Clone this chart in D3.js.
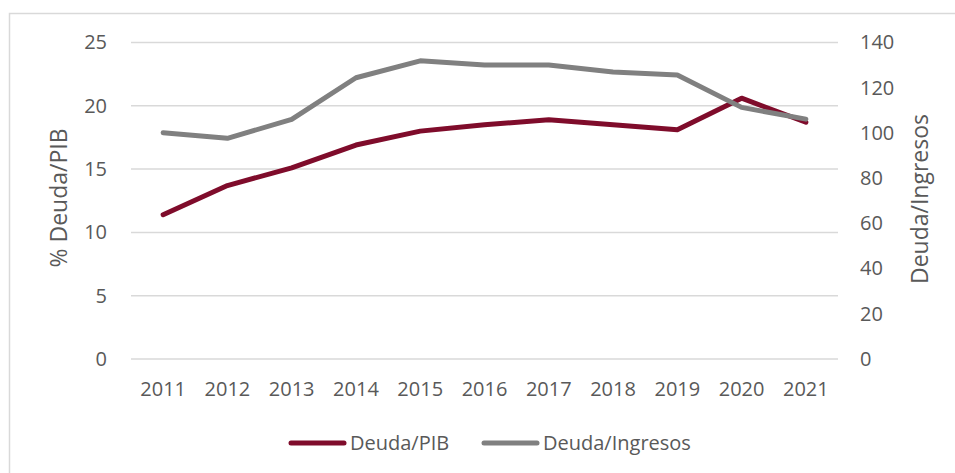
<!DOCTYPE html>
<html>
<head>
<meta charset="utf-8">
<script src="https://cdn.jsdelivr.net/npm/d3@7.9.0/dist/d3.min.js"></script>
<style>
  body { margin: 0; background: #fff; }
  svg { display: block; font-family: 'Open Sans', sans-serif; }
</style>
</head>
<body>
<div id="chart"></div>
<script>
const years = ['2011', '2012', '2013', '2014', '2015', '2016', '2017', '2018', '2019', '2020', '2021'];
const deudaPib = [11.4, 13.7, 15.1, 16.9, 18.0, 18.5, 18.9, 18.5, 18.1, 20.6, 18.7];
const deudaIngresos = [100.1, 97.6, 106.0, 124.4, 131.9, 130.0, 130.0, 127.0, 125.6, 111.3, 106.1];
const leftTicks = [0, 5, 10, 15, 20, 25];
const rightTicks = [0, 20, 40, 60, 80, 100, 120, 140];

const width = 955;
const height = 473;
const margin = { top: 42.5, right: 117, bottom: 114, left: 131 };
const textColor = '#595959';

const svg = d3
  .select('#chart')
  .append('svg')
  .attr('width', width)
  .attr('height', height);

// outer chart frame
svg
  .append('rect')
  .attr('x', 9.5)
  .attr('y', 13.5)
  .attr('width', width)
  .attr('height', height)
  .attr('fill', 'none')
  .attr('stroke', '#d9d9d9')
  .attr('stroke-width', 1.5);

const x = d3
  .scaleBand()
  .domain(years)
  .range([margin.left, width - margin.right]);

const yLeft = d3
  .scaleLinear()
  .domain([0, 25])
  .range([height - margin.bottom, margin.top]);

const yRight = d3
  .scaleLinear()
  .domain([0, 140])
  .range([height - margin.bottom, margin.top]);

// gridlines
svg
  .append('g')
  .attr('class', 'gridlines')
  .selectAll('line')
  .data(leftTicks)
  .join('line')
  .attr('x1', margin.left)
  .attr('x2', width - margin.right)
  .attr('y1', (d) => yLeft(d))
  .attr('y2', (d) => yLeft(d))
  .attr('stroke', '#d9d9d9')
  .attr('stroke-width', 1.5);

// left axis
const leftAxis = svg
  .append('g')
  .attr('transform', `translate(${margin.left - 24}, 0)`)
  .call(d3.axisLeft(yLeft).tickValues(leftTicks).tickSize(0).tickPadding(0));
leftAxis.select('.domain').remove();
leftAxis
  .selectAll('text')
  .attr('fill', textColor)
  .attr('font-size', 20)
  .attr('font-family', 'Open Sans');

// right axis
const rightAxis = svg
  .append('g')
  .attr('transform', `translate(${width - margin.right + 22}, 0)`)
  .call(d3.axisRight(yRight).tickValues(rightTicks).tickSize(0).tickPadding(0));
rightAxis.select('.domain').remove();
rightAxis
  .selectAll('text')
  .attr('fill', textColor)
  .attr('font-size', 20)
  .attr('font-family', 'Open Sans');

// x axis
const xAxis = svg
  .append('g')
  .attr('transform', `translate(0, ${height - margin.bottom + 23})`)
  .call(d3.axisBottom(x).tickSize(0).tickPadding(0));
xAxis.select('.domain').remove();
xAxis
  .selectAll('text')
  .attr('fill', textColor)
  .attr('font-size', 20)
  .attr('font-family', 'Open Sans')
  .attr('dy', '0.71em');

// axis titles
svg
  .append('text')
  .attr('transform', 'translate(67, 198) rotate(-90)')
  .attr('text-anchor', 'middle')
  .attr('fill', textColor)
  .attr('font-size', 23)
  .text('% Deuda/PIB');

svg
  .append('text')
  .attr('transform', 'translate(928, 199) rotate(-90)')
  .attr('text-anchor', 'middle')
  .attr('fill', textColor)
  .attr('font-size', 23)
  .text('Deuda/Ingresos');

const cx = (i) => x(years[i]) + x.bandwidth() / 2;

const series = [
  { name: 'Deuda/PIB', values: deudaPib, scale: yLeft, color: '#7f0c2b' },
  { name: 'Deuda/Ingresos', values: deudaIngresos, scale: yRight, color: '#808080' },
];

// draw PIB first then Ingresos on top, like the reference
series.forEach((s) => {
  const line = d3
    .line()
    .x((d, i) => cx(i))
    .y((d) => s.scale(d));
  svg
    .append('path')
    .datum(s.values)
    .attr('fill', 'none')
    .attr('stroke', s.color)
    .attr('stroke-width', 5)
    .attr('stroke-linejoin', 'round')
    .attr('stroke-linecap', 'round')
    .attr('d', line);
});

// legend
const legendX = [291, 484];
const legend = svg
  .append('g')
  .selectAll('g')
  .data(series)
  .join('g')
  .attr('transform', (d, i) => `translate(${legendX[i]}, 443)`);

legend
  .append('line')
  .attr('x1', 0)
  .attr('x2', 53)
  .attr('stroke', (d) => d.color)
  .attr('stroke-width', 5)
  .attr('stroke-linecap', 'round');

legend
  .append('text')
  .attr('x', 59)
  .attr('dy', '0.35em')
  .attr('fill', textColor)
  .attr('font-size', 20)
  .text((d) => d.name);
</script>
</body>
</html>
